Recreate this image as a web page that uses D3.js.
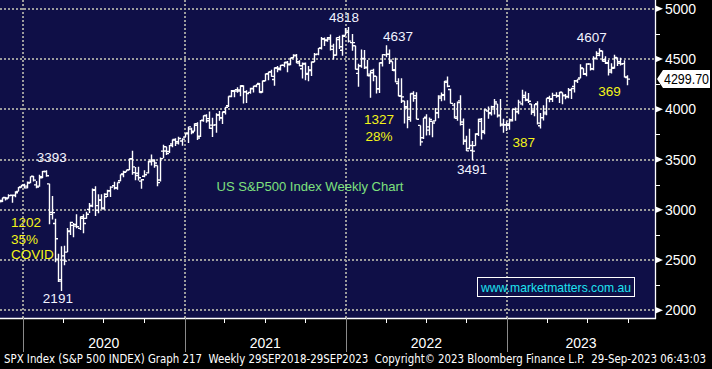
<!DOCTYPE html>
<html>
<head>
<meta charset="utf-8">
<script src="https://cdn.jsdelivr.net/npm/d3@7"></script>
<style>
  html, body { margin: 0; padding: 0; background: #000; }
  svg { display: block; }
  text { font-family: "Liberation Sans", Arial, sans-serif; }
</style>
</head>
<body>
<div id="chart"></div>
<script>
'use strict'

// weekly bars, first week ending 8 Nov 2019
let firstWeek = new Date(Date.UTC(2019, 10, 8))

let opens = [
  3078, 3081, 3123, 3117, 3144, 3141, 3183, 3227,
  // 2020
  3247, 3218, 3271, 3333, 3248, 3235, 3319, 3380, 3258, 2974, 2863, 2509, 2290,
  2499, 2579, 2783, 2845, 2854, 2815, 2915, 2914, 3004, 3038, 3199, 2994, 3094,
  3018, 3155, 3190, 3239, 3219, 3288, 3356, 3377, 3397, 3507, 3369, 3363, 3285,
  3334, 3367, 3494, 3494, 3441, 3296, 3583, 3627, 3579, 3654, 3694, 3676, 3684, 3723,
  // 2021
  3764, 3803, 3781, 3855, 3732, 3892, 3939, 3886, 3842, 3844, 3942, 3917,
  3969, 4034, 4125, 4179, 4194, 4192, 4228, 4174, 4168, 4207, 4230, 4256, 4174,
  4284, 4353, 4372, 4296, 4409, 4407, 4438, 4461, 4450, 4513, 4535, 4473, 4403,
  4450, 4348, 4386, 4469, 4548, 4610, 4701, 4689, 4712, 4628, 4538, 4692, 4587, 4733,
  // 2022
  4779, 4663, 4632, 4357, 4432, 4505, 4412, 4333, 4363, 4327, 4203, 4462,
  4541, 4548, 4475, 4385, 4255, 4131, 4082, 4013, 3920, 4153, 4134, 3839, 3716,
  3920, 3792, 3880, 3883, 3966, 4112, 4139, 4269, 4196, 4041, 3910, 4083, 3849, 3682,
  3610, 3590, 3638, 3754, 3881, 3783, 3983, 3956, 4024, 4053, 3940, 3842, 3844,
  // 2023
  3853, 3884, 3999, 3979, 4053, 4119, 4097, 4052, 3982, 4055, 3835, 3917, 3954,
  4113, 4098, 4138, 4132, 4167, 4136, 4127, 4190, 4226, 4282, 4310, 4405, 4354,
  4450, 4404, 4505, 4555, 4578, 4492, 4458, 4390, 4415, 4510, 4472, 4454, 4315
]
let highs = [
  3097, 3120, 3127, 3154, 3150, 3183, 3226, 3248,
  3258, 3282, 3330, 3337, 3285, 3348, 3385, 3393, 3260, 3137, 2911, 2563, 2637,
  2641, 2819, 2880, 2868, 2955, 2933, 2955, 2981, 3068, 3212, 3233, 3155, 3155,
  3165, 3198, 3233, 3279, 3272, 3352, 3387, 3399, 3509, 3588, 3425, 3429, 3306,
  3394, 3485, 3550, 3502, 3441, 3521, 3646, 3628, 3645, 3700, 3712, 3726, 3712, 3760,
  3827, 3817, 3861, 3870, 3894, 3937, 3950, 3978, 3915, 3960, 3983, 3975,
  4021, 4130, 4191, 4195, 4219, 4238, 4238, 4188, 4214, 4233, 4249, 4262, 4287,
  4355, 4372, 4393, 4415, 4429, 4441, 4469, 4480, 4513, 4546, 4549, 4486, 4465,
  4465, 4429, 4475, 4560, 4608, 4718, 4714, 4718, 4744, 4652, 4713, 4731, 4740, 4808,
  4819, 4749, 4632, 4453, 4595, 4590, 4489, 4385, 4402, 4327, 4466, 4546,
  4637, 4593, 4475, 4512, 4308, 4307, 4082, 4090, 4158, 4178, 4169, 3839, 3913,
  3951, 3919, 3880, 4013, 4140, 4167, 4280, 4325, 4203, 4062, 4077, 4140, 3907, 3736,
  3807, 3685, 3762, 3905, 3912, 4002, 4028, 4034, 4101, 4053, 4101, 3906, 3878,
  3907, 4003, 4016, 4095, 4195, 4176, 4161, 4052, 4049, 4079, 3962, 4039, 4110,
  4133, 4163, 4170, 4171, 4167, 4151, 4212, 4213, 4290, 4299, 4448, 4408, 4458,
  4456, 4528, 4578, 4607, 4585, 4527, 4490, 4458, 4541, 4515, 4511, 4487, 4338
]
let lows = [
  3066, 3077, 3091, 3113, 3070, 3125, 3183, 3220,
  3212, 3215, 3263, 3281, 3214, 3230, 3315, 3328, 2856, 2902, 2479, 2281, 2192,
  2447, 2579, 2749, 2727, 2817, 2798, 2766, 2910, 2969, 3026, 2937, 2966, 3004,
  3000, 3128, 3127, 3201, 3200, 3284, 3323, 3379, 3396, 3349, 3293, 3292, 3209,
  3324, 3361, 3441, 3419, 3234, 3280, 3512, 3544, 3564, 3622, 3634, 3648, 3637, 3723,
  3663, 3750, 3781, 3695, 3725, 3875, 3865, 3805, 3723, 3767, 3885, 3853,
  3947, 4021, 4119, 4118, 4165, 4128, 4057, 4062, 4154, 4167, 4218, 4165, 4165,
  4279, 4289, 4322, 4233, 4368, 4385, 4418, 4367, 4438, 4508, 4459, 4428, 4306,
  4289, 4279, 4330, 4469, 4537, 4595, 4630, 4672, 4585, 4495, 4532, 4600, 4532, 4733,
  4663, 4582, 4395, 4223, 4412, 4401, 4328, 4115, 4279, 4157, 4162, 4425,
  4517, 4451, 4381, 4268, 4130, 4062, 3859, 3810, 3875, 4074, 3900, 3637, 3705,
  3739, 3742, 3722, 3883, 3911, 4080, 4087, 4218, 4057, 3907, 3886, 3837, 3647, 3584,
  3603, 3492, 3638, 3733, 3698, 3751, 3906, 3938, 3948, 3919, 3828, 3765, 3784,
  3795, 3877, 3886, 3949, 4038, 4080, 4061, 3944, 3929, 3847, 3809, 3889, 3941,
  4069, 4073, 4114, 4061, 4049, 4099, 4110, 4103, 4166, 4261, 4308, 4341, 4328,
  4385, 4389, 4503, 4528, 4474, 4449, 4335, 4356, 4403, 4431, 4436, 4316, 4238
]
let closes = [
  3093, 3120, 3110, 3141, 3146, 3169, 3221, 3240,
  3235, 3265, 3330, 3295, 3226, 3328, 3380, 3338, 2954, 2972, 2711, 2305, 2541,
  2489, 2790, 2875, 2837, 2831, 2930, 2864, 2955, 3044, 3194, 3041, 3098, 3009,
  3130, 3185, 3225, 3216, 3271, 3351, 3373, 3397, 3508, 3427, 3341, 3319, 3298,
  3348, 3477, 3484, 3465, 3270, 3509, 3585, 3558, 3638, 3699, 3663, 3709, 3703, 3756,
  3825, 3768, 3841, 3714, 3887, 3935, 3907, 3811, 3842, 3943, 3913, 3975,
  4020, 4129, 4185, 4180, 4181, 4233, 4174, 4156, 4204, 4230, 4247, 4166, 4281,
  4352, 4370, 4327, 4412, 4395, 4437, 4468, 4442, 4509, 4535, 4459, 4433, 4455,
  4357, 4391, 4471, 4545, 4605, 4698, 4683, 4698, 4595, 4538, 4712, 4621, 4726, 4766,
  4677, 4663, 4398, 4432, 4501, 4419, 4349, 4385, 4329, 4204, 4463, 4543,
  4546, 4488, 4393, 4272, 4132, 4123, 4024, 3901, 4158, 4109, 3901, 3675, 3912,
  3825, 3899, 3863, 3962, 4130, 4145, 4280, 4228, 4058, 3924, 4067, 3873, 3693, 3586,
  3640, 3583, 3753, 3901, 3771, 3993, 3965, 4026, 4072, 3934, 3852, 3845, 3840,
  3895, 3999, 3973, 4071, 4136, 4090, 4079, 3970, 4046, 3862, 3917, 3971, 4109,
  4105, 4138, 4134, 4169, 4136, 4124, 4192, 4205, 4282, 4299, 4410, 4348, 4450,
  4399, 4505, 4536, 4582, 4478, 4464, 4370, 4406, 4516, 4457, 4450, 4320, 4299.7
]

let lastPrice = "4299.70"
let yTicks = [2000, 2500, 3000, 3500, 4000, 4500, 5000]
let yMinor = [2250, 2750, 3250, 3750, 4250, 4750]
let yearLabels = ["2020", "2021", "2022", "2023"]

// annotations: [text, date, price at text centre]
let whiteNotes = [
  ["3393", "2020-03-06", 3525],
  ["2191", "2020-03-20", 2122],
  ["4818", "2021-12-28", 4918],
  ["4637", "2022-04-29", 4729],
  ["3491", "2022-10-14", 3406],
  ["4607", "2023-07-12", 4719]
]
let yellowNotes = [
  ["1202", "2019-12-05", 2878, "start"],
  ["35%", "2019-12-05", 2709, "start"],
  ["COVID", "2019-12-05", 2560, "start"],
  ["1327", "2022-03-17", 3903, "middle"],
  ["28%", "2022-03-17", 3734, "middle"],
  ["387", "2023-02-08", 3674, "middle"],
  ["369", "2023-08-21", 4181, "middle"]
]
let title = "US S&P500 Index Weekly Chart"
let site = "www.marketmatters.com.au"
let footer = "SPX Index (S&P 500 INDEX) Graph 217  Weekly 29SEP2018-29SEP2023  Copyright\u00a9 2023 Bloomberg Finance L.P.  29-Sep-2023 06:43:03"

let width = 712
let height = 369
let plotRight = 655
let plotBottom = 318
let navy = "#0f0f47"

let dates = closes.map((d, i) => d3.utcDay.offset(firstWeek, 7 * i))

let x = d3.scaleUtc()
  .domain([new Date(Date.UTC(2020, 0, 1)), new Date(Date.UTC(2023, 0, 1))])
  .range([23, 507])
let y = d3.scaleLinear()
  .domain([2000, 5000])
  .range([310.3, 8.7])

let svg = d3.select("#chart").append("svg")
  .attr("width", width)
  .attr("height", height)
  .style("background", "#000")

svg.append("rect")
  .attr("width", plotRight)
  .attr("height", plotBottom)
  .attr("fill", navy)

svg.append("clipPath").attr("id", "plotclip")
  .append("rect").attr("width", plotRight).attr("height", plotBottom)

// grid
let grid = svg.append("g")
  .attr("stroke", "#9c9c9c")
  .attr("stroke-width", 2)
  .attr("stroke-dasharray", "2,2")
grid.selectAll("line.h").data(yTicks).enter().append("line")
  .attr("x1", 0).attr("x2", plotRight)
  .attr("y1", d => Math.round(y(d))).attr("y2", d => Math.round(y(d)))
let yearStarts = d3.utcYear.range(new Date(Date.UTC(2020, 0, 1)), new Date(Date.UTC(2024, 0, 1)))
grid.selectAll("line.v").data(yearStarts).enter().append("line")
  .attr("x1", d => Math.round(x(d))).attr("x2", d => Math.round(x(d)))
  .attr("y1", 0).attr("y2", plotBottom)

// OHLC bars
let bars = svg.append("g").attr("clip-path", "url(#plotclip)")
bars.selectAll("path").data(closes).enter().append("path")
  .attr("d", function (c, i) {
    let cx = Math.round(x(dates[i])) + 0.5
    return "M" + cx + "," + y(highs[i]) + "V" + y(lows[i]) +
      "M" + (cx - 2.5) + "," + y(opens[i]) + "H" + cx +
      "M" + cx + "," + y(c) + "H" + (cx + 2.5)
  })
  .attr("fill", "none")
  .attr("stroke", "#fff")
  .attr("stroke-width", 1.4)

// frame lines
svg.append("line").attr("x1", plotRight + 0.5).attr("x2", plotRight + 0.5)
  .attr("y1", 0).attr("y2", plotBottom + 1)
  .attr("stroke", "#fff").attr("stroke-width", 1.3)
svg.append("line").attr("x1", 0).attr("x2", plotRight + 1)
  .attr("y1", plotBottom + 0.5).attr("y2", plotBottom + 0.5)
  .attr("stroke", "#fff").attr("stroke-width", 1.3)

// y axis on the right
let yAxis = svg.append("g")
yAxis.selectAll("path.tri").data(yTicks).enter().append("path")
  .attr("d", d => "M" + plotRight + "," + (y(d) - 3.5) + "L" + (plotRight + 8) + "," + y(d) +
    "L" + plotRight + "," + (y(d) + 3.5) + "Z")
  .attr("fill", "#fff")
yAxis.selectAll("line.minor").data(yMinor).enter().append("line")
  .attr("x1", plotRight).attr("x2", plotRight + 5)
  .attr("y1", d => Math.round(y(d)) + 0.5).attr("y2", d => Math.round(y(d)) + 0.5)
  .attr("stroke", "#fff").attr("stroke-width", 1)
yAxis.selectAll("text").data(yTicks).enter().append("text")
  .attr("x", plotRight + 10)
  .attr("y", d => y(d))
  .attr("dy", "0.36em")
  .attr("fill", "#fff")
  .style("font-size", "14px")
  .text(d => d)

// last price tag
let ly = y(closes[closes.length - 1])
svg.append("path")
  .attr("d", "M" + (plotRight + 2) + "," + ly + "L" + (plotRight + 8) + "," + (ly - 9) +
    "H710V" + (ly + 9) + "H" + (plotRight + 8) + "Z")
  .attr("fill", "#fff")
svg.append("text")
  .attr("x", 709)
  .attr("y", ly)
  .attr("dy", "0.36em")
  .attr("text-anchor", "end")
  .attr("fill", "#000")
  .style("font-size", "14px")
  .attr("textLength", 45)
  .attr("lengthAdjust", "spacingAndGlyphs")
  .text(lastPrice)

// x axis
let quarters = d3.utcMonth.every(3).range(new Date(Date.UTC(2019, 9, 1)), new Date(Date.UTC(2023, 11, 1)))
  .filter(d => d.getUTCMonth() !== 0 && x(d) >= 0 && x(d) < plotRight)
svg.append("g").selectAll("line").data(quarters).enter().append("line")
  .attr("x1", d => Math.round(x(d)) + 0.5).attr("x2", d => Math.round(x(d)) + 0.5)
  .attr("y1", plotBottom).attr("y2", plotBottom + 5)
  .attr("stroke", "#fff").attr("stroke-width", 1)
svg.append("g").selectAll("line").data(yearStarts).enter().append("line")
  .attr("x1", d => Math.round(x(d)) + 0.5).attr("x2", d => Math.round(x(d)) + 0.5)
  .attr("y1", plotBottom).attr("y2", 352)
  .attr("stroke", "#8a8a8a").attr("stroke-width", 1)
svg.append("g").selectAll("text").data(yearLabels).enter().append("text")
  .attr("x", (d, i) => {
    let a = x(yearStarts[i])
    let b = i + 1 < yearStarts.length ? x(yearStarts[i + 1]) : plotRight
    return (a + Math.min(b, plotRight)) / 2
  })
  .attr("y", 343)
  .attr("dy", "0.36em")
  .attr("text-anchor", "middle")
  .attr("fill", "#fff")
  .style("font-size", "14px")
  .text(d => d)

// annotations
svg.append("g").selectAll("text").data(whiteNotes).enter().append("text")
  .attr("x", d => x(new Date(d[1])))
  .attr("y", d => y(d[2]))
  .attr("dy", "0.36em")
  .attr("text-anchor", "middle")
  .attr("fill", "#f2f4ff")
  .style("font-size", "13.5px")
  .text(d => d[0])
svg.append("g").selectAll("text").data(yellowNotes).enter().append("text")
  .attr("x", d => x(new Date(d[1])))
  .attr("y", d => y(d[2]))
  .attr("dy", "0.36em")
  .attr("text-anchor", d => d[3])
  .attr("fill", "#f4f418")
  .style("font-size", "13.5px")
  .text(d => d[0])

svg.append("text")
  .attr("x", 310).attr("y", 186).attr("dy", "0.36em")
  .attr("text-anchor", "middle")
  .attr("fill", "#7ee07e")
  .style("font-size", "13.5px")
  .attr("textLength", 187)
  .attr("lengthAdjust", "spacingAndGlyphs")
  .text(title)

svg.append("rect")
  .attr("x", 477.5).attr("y", 277.5).attr("width", 157).attr("height", 19)
  .attr("fill", "none").attr("stroke", "#fff").attr("stroke-width", 1)
svg.append("text")
  .attr("x", 556).attr("y", 287).attr("dy", "0.36em")
  .attr("text-anchor", "middle")
  .attr("fill", "#1ee3f0")
  .style("font-size", "13.5px")
  .attr("textLength", 150)
  .attr("lengthAdjust", "spacingAndGlyphs")
  .text(site)

svg.append("text")
  .attr("x", 4).attr("y", 363)
  .attr("fill", "#fff")
  .style("white-space", "pre")
  .style("font-family", "'Liberation Sans Narrow', 'DejaVu Sans Condensed', sans-serif")
  .style("font-size", "12px")
  .attr("textLength", 702)
  .attr("lengthAdjust", "spacingAndGlyphs")
  .text(footer)
</script>
</body>
</html>
